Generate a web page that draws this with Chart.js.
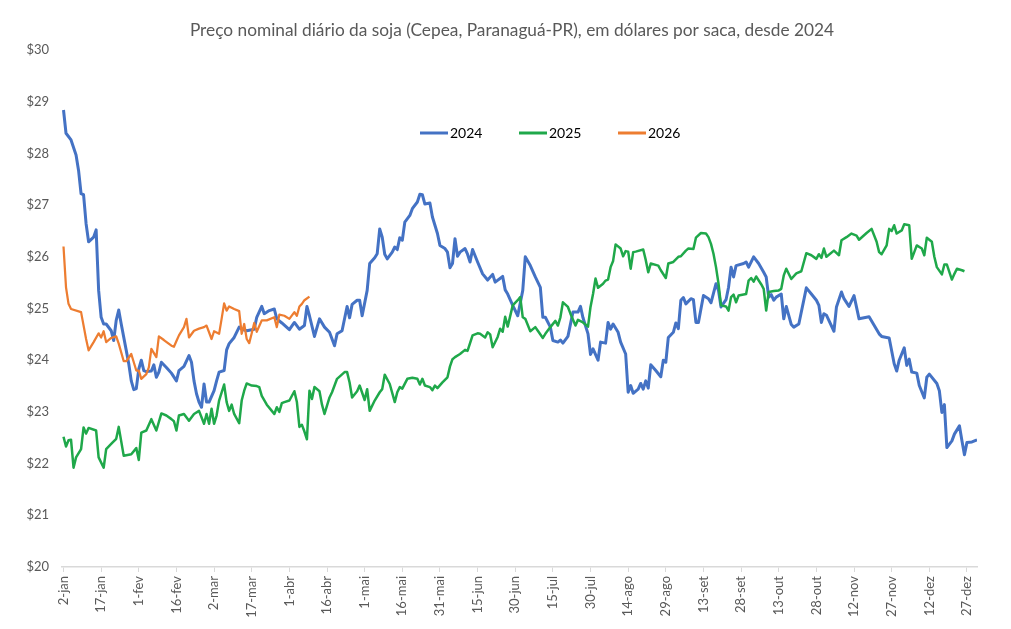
<!DOCTYPE html>
<html>
<head>
<meta charset="utf-8">
<script src="https://cdn.jsdelivr.net/npm/chart.js@4.4.1/dist/chart.umd.min.js"></script>
<style>
    body { margin: 0; background: #fff; }
    #wrap { width: 1011px; height: 629px; }
</style>
</head>
<body>
<div id="wrap"><canvas id="sojaChart"></canvas></div>
<script>
// day offset from 2-jan, price in US$ per saca
const series2024 = [[0,28.84],[1,28.39],[3,28.26],[5,27.97],[6,27.67],[7,27.22],[8,27.2],[9,26.64],[10,26.29],[12,26.38],[13,26.52],[14,25.35],[15,24.83],[16,24.7],[17,24.7],[19,24.57],[20,24.38],[21,24.77],[22,24.97],[23,24.7],[25,24.19],[26,23.93],[27,23.6],[28,23.43],[29,23.45],[30,23.83],[31,24.0],[32,23.8],[33,23.78],[35,23.79],[36,23.91],[37,23.67],[38,23.77],[39,23.96],[41,23.86],[43,23.75],[45,23.6],[46,23.8],[48,23.88],[50,24.09],[51,23.96],[52,23.6],[53,23.35],[54,23.19],[55,23.09],[56,23.54],[57,23.19],[58,23.19],[60,23.41],[61,23.6],[62,23.77],[64,23.8],[65,24.2],[66,24.32],[68,24.44],[70,24.64],[71,24.6],[73,24.57],[76,24.6],[77,24.83],[79,25.04],[80,24.9],[82,24.96],[84,24.99],[85,24.8],[87,24.72],[90,24.59],[92,24.73],[94,24.6],[96,24.67],[97,25.04],[98,24.86],[100,24.46],[102,24.8],[104,24.64],[106,24.54],[108,24.28],[109,24.51],[111,24.57],[113,25.04],[114,24.82],[115,25.08],[117,25.16],[118,25.16],[119,24.86],[121,25.35],[122,25.87],[124,25.98],[125,26.06],[126,26.54],[127,26.38],[128,26.05],[129,25.96],[131,26.09],[132,26.19],[133,26.14],[134,26.37],[135,26.32],[136,26.67],[138,26.8],[139,26.93],[141,27.06],[142,27.21],[143,27.2],[144,27.02],[146,27.04],[147,26.77],[149,26.45],[150,26.22],[152,26.16],[153,26.09],[154,25.79],[155,25.87],[156,26.35],[157,26.01],[158,26.09],[160,26.16],[161,26.05],[162,25.9],[163,26.14],[165,25.9],[167,25.67],[169,25.55],[171,25.66],[172,25.51],[175,25.62],[176,25.36],[177,25.28],[179,25.06],[181,24.86],[183,25.35],[184,26.0],[186,25.83],[188,25.61],[190,25.41],[191,24.83],[192,24.83],[194,24.64],[195,24.38],[197,24.35],[198,24.39],[199,24.33],[201,24.46],[203,24.93],[205,24.93],[206,25.04],[207,24.82],[209,24.51],[210,24.11],[211,24.22],[213,24.0],[214,24.35],[216,24.33],[217,24.73],[218,24.6],[219,24.7],[221,24.54],[222,24.35],[224,24.12],[225,23.38],[226,23.51],[227,23.36],[229,23.44],[230,23.55],[231,23.44],[232,23.6],[233,23.46],[234,23.91],[236,23.8],[238,23.68],[239,24.0],[240,23.96],[241,24.44],[243,24.54],[244,24.72],[245,24.61],[246,25.16],[247,25.21],[248,25.09],[250,25.19],[251,25.17],[252,24.73],[253,24.73],[255,25.25],[257,25.19],[258,25.11],[260,25.48],[261,25.35],[262,25.03],[264,25.17],[265,25.41],[266,25.8],[267,25.61],[268,25.83],[271,25.87],[272,25.9],[273,25.8],[275,26.0],[277,25.87],[279,25.7],[280,25.61],[281,25.22],[282,25.27],[283,25.16],[284,25.22],[286,25.28],[287,24.8],[288,25.04],[290,24.69],[291,24.64],[293,24.7],[296,25.4],[298,25.28],[300,25.16],[301,25.06],[302,24.73],[303,24.9],[304,24.87],[307,24.56],[308,25.03],[310,25.32],[311,25.19],[313,25.04],[315,25.25],[317,24.8],[321,24.84],[325,24.51],[326,24.46],[329,24.43],[331,23.93],[332,23.79],[333,24.0],[335,24.24],[336,23.9],[337,24.02],[338,23.77],[340,23.75],[341,23.51],[343,23.27],[344,23.67],[345,23.73],[348,23.55],[349,23.41],[350,22.99],[351,23.14],[352,22.31],[354,22.44],[355,22.57],[357,22.73],[358,22.44],[359,22.17],[360,22.41],[362,22.42],[364,22.46]];

const series2025 = [[0,22.52],[1,22.33],[2,22.45],[3,22.46],[4,21.92],[5,22.12],[7,22.28],[8,22.7],[9,22.58],[10,22.69],[13,22.64],[14,22.12],[16,21.92],[17,22.28],[19,22.38],[21,22.48],[22,22.71],[24,22.15],[27,22.18],[29,22.3],[30,22.07],[31,22.6],[33,22.64],[35,22.86],[37,22.64],[39,22.97],[41,22.93],[43,22.86],[44,22.82],[45,22.64],[46,22.93],[48,22.96],[50,22.83],[52,22.96],[54,23.02],[56,22.77],[57,22.96],[58,22.77],[59,23.06],[60,22.77],[61,22.93],[62,23.22],[64,23.53],[65,23.19],[66,23.02],[67,23.14],[68,22.96],[70,22.78],[71,23.22],[72,23.41],[73,23.55],[75,23.51],[77,23.5],[78,23.48],[79,23.31],[81,23.14],[83,23.02],[84,22.96],[85,23.09],[86,23.0],[87,23.17],[88,23.19],[90,23.22],[92,23.4],[93,23.19],[94,22.71],[95,22.75],[96,22.62],[97,22.47],[98,23.41],[99,23.25],[100,23.48],[102,23.4],[103,23.14],[104,22.96],[106,23.28],[107,23.38],[109,23.64],[112,23.77],[113,23.77],[114,23.57],[115,23.28],[117,23.4],[118,23.51],[120,23.23],[121,23.44],[122,23.02],[124,23.22],[126,23.38],[127,23.44],[128,23.72],[130,23.54],[132,23.19],[133,23.38],[134,23.48],[135,23.45],[137,23.64],[139,23.66],[141,23.64],[142,23.53],[143,23.64],[144,23.51],[146,23.48],[147,23.42],[148,23.51],[149,23.46],[151,23.57],[153,23.67],[154,23.88],[155,24.02],[156,24.06],[158,24.12],[160,24.2],[161,24.18],[163,24.48],[165,24.52],[166,24.51],[168,24.44],[169,24.54],[170,24.5],[171,24.25],[173,24.45],[174,24.61],[175,24.55],[176,24.84],[177,24.65],[179,25.06],[181,25.16],[182,25.22],[183,24.83],[184,24.8],[186,24.56],[188,24.64],[189,24.57],[191,24.43],[192,24.51],[194,24.64],[196,24.76],[197,24.67],[198,24.83],[199,25.12],[201,25.03],[202,24.9],[204,24.67],[205,24.78],[207,24.73],[209,24.65],[210,25.03],[211,25.28],[212,25.58],[213,25.4],[215,25.48],[216,25.54],[217,25.56],[218,25.8],[219,25.92],[220,26.24],[222,26.16],[223,26.01],[224,26.11],[225,26.1],[226,25.77],[227,26.09],[228,26.1],[231,26.14],[232,25.94],[233,25.7],[234,25.87],[237,25.83],[238,25.74],[240,25.59],[241,25.87],[243,25.9],[245,26.0],[246,26.01],[248,26.12],[249,26.16],[251,26.15],[252,26.37],[254,26.46],[256,26.45],[257,26.38],[258,26.25],[259,26.06],[260,25.8],[261,25.48],[262,25.06],[264,25.04],[265,24.96],[266,25.22],[267,25.27],[268,25.12],[269,25.25],[272,25.28],[273,25.54],[274,25.59],[275,25.52],[276,25.62],[278,25.47],[279,25.38],[280,24.96],[281,25.32],[283,25.34],[285,25.35],[286,25.38],[287,25.64],[288,25.77],[290,25.57],[292,25.68],[294,25.72],[296,26.07],[298,26.03],[300,25.96],[301,26.05],[302,25.98],[303,26.16],[304,26.0],[307,26.12],[309,26.03],[310,26.32],[312,26.38],[314,26.45],[316,26.41],[317,26.33],[320,26.46],[322,26.54],[324,26.29],[325,26.09],[326,26.05],[328,26.22],[329,26.54],[330,26.5],[331,26.61],[332,26.45],[334,26.51],[335,26.63],[337,26.61],[338,25.96],[340,26.22],[342,26.16],[343,26.03],[344,26.37],[346,26.29],[347,26.0],[348,25.8],[350,25.66],[351,25.85],[352,25.85],[354,25.56],[355,25.67],[356,25.77],[358,25.74],[359,25.72]];

const series2026 = [[0,26.2],[1,25.41],[2,25.09],[3,24.99],[7,24.93],[9,24.41],[10,24.19],[12,24.35],[14,24.52],[15,24.44],[16,24.56],[17,24.35],[19,24.43],[21,24.46],[22,24.32],[24,23.98],[25,23.98],[27,24.12],[29,23.8],[30,23.8],[31,23.64],[33,23.73],[34,23.86],[35,24.22],[37,24.06],[38,24.46],[40,24.39],[43,24.28],[44,24.26],[45,24.37],[46,24.48],[48,24.64],[49,24.8],[50,24.44],[52,24.57],[54,24.61],[56,24.64],[57,24.67],[59,24.41],[60,24.56],[62,24.51],[63,24.8],[64,25.1],[65,24.96],[66,25.04],[68,24.99],[70,24.95],[71,24.51],[72,24.7],[73,24.41],[74,24.33],[75,24.52],[76,24.72],[77,24.55],[79,24.77],[81,24.77],[84,24.83],[85,24.64],[86,24.88],[88,24.86],[90,24.8],[92,24.93],[93,24.86],[94,25.04],[95,25.09],[96,25.16],[98,25.23]];

const seriesNames = ['2024', '2025', '2026'];
const seriesColors = ['#4472C4', '#1FA84A', '#ED7D31'];
const chartTitle = 'Preço nominal diário da soja (Cepea, Paranaguá-PR), em dólares por saca, desde 2024';

// one label every 15 days
const tickLabels = ['2-jan', '17-jan', '1-fev', '16-fev', '2-mar', '17-mar', '1-abr', '16-abr', '1-mai', '16-mai', '31-mai', '15-jun', '30-jun', '15-jul', '30-jul', '14-ago', '29-ago', '13-set', '28-set', '13-out', '28-out', '12-nov', '27-nov', '12-dez', '27-dez'];

const toPoints = (list) => list.map(p => ({ x: p[0], y: p[1] }));

// title centred on the whole picture + legend inside the plot, like the original
const titleAndLegend = {
    id: 'titleAndLegend',
    afterDraw(chart) {
        const ctx = chart.ctx;
        ctx.save();
        ctx.fillStyle = '#595959';
        ctx.font = '17.3px Lato';
        ctx.textAlign = 'center';
        ctx.textBaseline = 'middle';
        ctx.fillText(chartTitle, 512, 30);

        const startX = 420;
        const gap = 99;
        const y = 133;
        ctx.textAlign = 'left';
        chart.data.datasets.forEach((ds, i) => {
            const x = startX + i * gap;
            ctx.strokeStyle = ds.borderColor;
            ctx.lineWidth = 3;
            ctx.beginPath();
            ctx.moveTo(x, y);
            ctx.lineTo(x + 28, y);
            ctx.stroke();
            ctx.fillStyle = '#000';
            ctx.font = '14px Lato';
            ctx.fillText(ds.label, x + 30, y + 0.5);
        });
        ctx.restore();
    }
};

const ctx = document.getElementById('sojaChart').getContext('2d');
new Chart(ctx, {
    type: 'line',
    data: {
        datasets: [
            { label: seriesNames[0], data: toPoints(series2024), borderColor: seriesColors[0], borderWidth: 3, order: 3 },
            { label: seriesNames[1], data: toPoints(series2025), borderColor: seriesColors[1], borderWidth: 2.5, order: 2 },
            { label: seriesNames[2], data: toPoints(series2026), borderColor: seriesColors[2], borderWidth: 2.25, order: 1 }
        ]
    },
    options: {
        responsive: true,
        maintainAspectRatio: false,
        animation: false,
        layout: { padding: { left: 0, right: 34, top: 50, bottom: 0 } },
        elements: {
            point: { radius: 0 },
            line: { tension: 0, borderJoinStyle: 'round', borderCapStyle: 'butt' }
        },
        plugins: {
            legend: { display: false },
            tooltip: { enabled: false },
            title: { display: false }
        },
        scales: {
            x: {
                type: 'linear',
                min: -0.6,
                max: 364,
                afterBuildTicks: (scale) => {
                    scale.ticks = tickLabels.map((l, i) => ({ value: i * 15 }));
                },
                afterFit: (scale) => { scale.height = 62; },
                grid: { drawOnChartArea: false, drawTicks: true, tickLength: 5, color: '#D9D9D9', lineWidth: 1 },
                border: { display: true, color: '#D9D9D9', width: 1.5 },
                ticks: {
                    autoSkip: false,
                    minRotation: 90,
                    maxRotation: 90,
                    padding: 4,
                    color: '#595959',
                    font: { family: 'Lato', size: 13 },
                    callback: (v) => tickLabels[Math.round(v / 15)]
                }
            },
            y: {
                min: 20,
                max: 30,
                afterFit: (scale) => { scale.width = 62; },
                grid: { display: false, drawTicks: false },
                border: { display: false },
                ticks: {
                    stepSize: 1,
                    padding: 13,
                    color: '#595959',
                    font: { family: 'Lato', size: 13 },
                    callback: (v) => '$' + v
                }
            }
        }
    },
    plugins: [titleAndLegend]
});
</script>
</body>
</html>
